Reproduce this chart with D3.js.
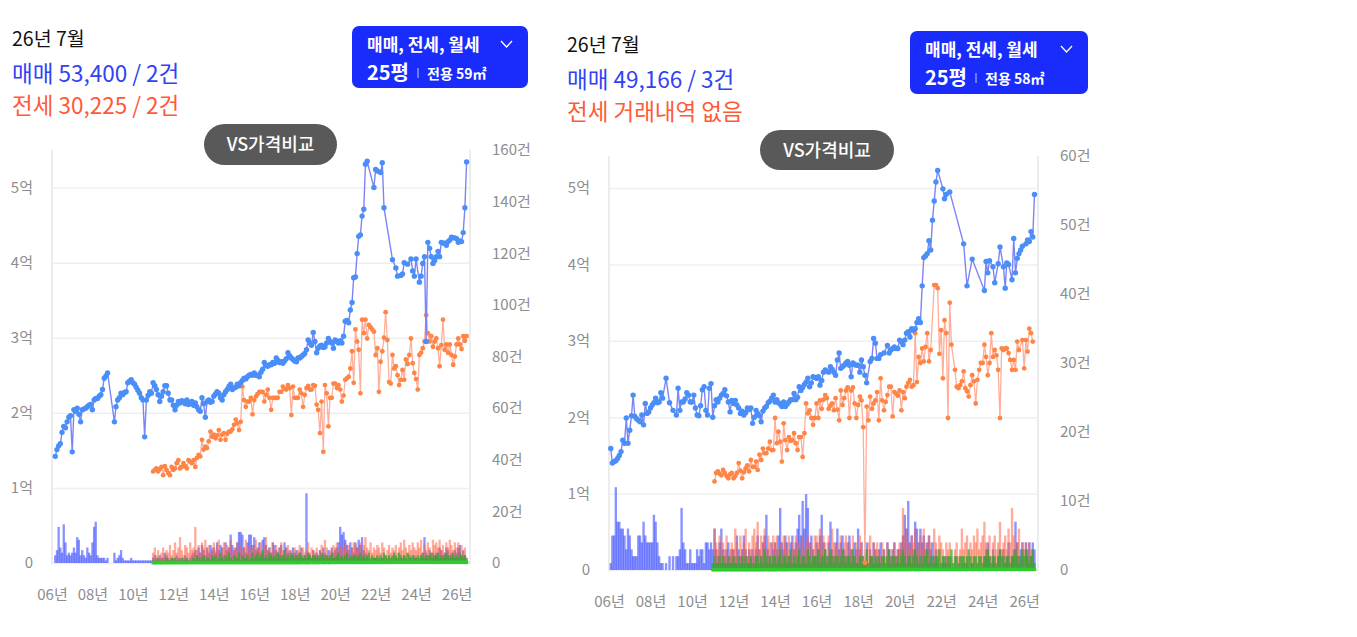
<!DOCTYPE html>
<html>
<head>
<meta charset="utf-8">
<script src="https://cdn.jsdelivr.net/npm/d3@7/dist/d3.min.js"></script>
<style>
  body { margin: 0; background: #fff; }
  svg text { font-family: "Noto Sans CJK KR", "Noto Sans", sans-serif; }
</style>
</head>
<body>
<svg id="chart" width="1357" height="637"></svg>
<script>
// ---- data: monthly, 매매 from 2006-01, 전세/월세 from 2011-01 (만원, 건) ----
var rentalFrom = 60; // month index of 2011-01

var priceTicks = [0, 10000, 20000, 30000, 40000, 50000];
var yearTicks = [2006, 2008, 2010, 2012, 2014, 2016, 2018, 2020, 2022, 2024, 2026];

// panel A (25평 / 59㎡)
var saleA = [
  null, null, 14200, 15100, 15600, 15900, 17400, 18200, 18000, 18800, 19400, 19600,
  14800, 20400, 20200, 20600, 19800, 18800, 20400, 20500, 20600, 20800, 21000, 21100,
  20400, 21700, 21900, 21900, 22200, 22400, 23100, 24600, 24900, 25300, null, null,
  null, 18800, 20800, 21700, 22000, 22600, 22400, 22700, 22800, 24000, 24200, 24400,
  24000, 23800, 23400, 23000, 22600, 22000, 21700, 16800, 21700, 22300, 22800, 22600,
  24000, 23600, 23100, 22400, 21500, 22200, 22800, 23600, 23600, 22600, 21700, 21700,
  21000, 20400, 21000, 21500, 21300, 21600, 21500, 21200, 21700, 21100, 21300, 21500,
  21000, 21300, 20800, 20400, 20200, 22000, 21200, 19400, 21500, 21700, 21400, 21500,
  22200, 22500, 22800, 22600, 22000, 21700, 22400, 22800, 23100, 23500, 23800, 23100,
  23300, 23400, 23800, 23600, 24000, 24300, 24600, 24500, 24800, 25000, 25100, 25000,
  25300, 25000, 25000, 24800, 25400, 25800, 26700, 26300, 26200, 26400, 26400, 26700,
  26600, 27300, 27000, 26700, 26800, 26600, 26900, 27200, 28000, 27600, 27300, 27100,
  26900, 26800, 27300, 27300, 27500, 27700, 27900, 28400, 29700, 29300, 29000, 30700,
  29500, 28000, 28600, 28900, 29000, 28700, 28800, 29300, 29900, 29500, 29300, 28600,
  29700, 29500, 29300, 29600, 29300, 30200, 32200, 32300, 32000, 33700, 34700, 38000,
  38100, 41200, 43500, 43700, 46200, 47100, 53100, 53500, null, null, null, 50000,
  52400, 52200, null, 52000, 53300, 47300, null, null, null, null, 40400, null,
  39300, 38200, null, 38300, 38500, 40000, null, 39800, null, 40500, 38900, 38200,
  40500, null, 37400, 38200, 39900, 40800, 29500, 42700, 41900, 40800, 39900, 40300,
  40800, 41500, 40800, 42700, 42600, 42600, 42300, 42800, 43000, 43400, 43300, 43300,
  43200, 42700, 42900, 42800, 44000, 47300, 53400
];
var jeonseA = [
  12200, 12400, 12600, 12200, 12500, 12800, 11700, 12900, 12400, 12000, 11700, 12800,
  12400, 12600, 13300, 13700, 12600, 12800, 13300, 12900, 12600, 13700, 13500, 13300,
  13700, 12800, 14000, 14400, 14200, 16400, 15100, 15500, 15300, 16200, 17500, 16800,
  17100, 16600, 17000, 17700, 16400, 17100, 17300, 16400, 17200, 17500, 17500, 17800,
  18400, 19100, 18600, 17700, 18800, 23500, 21700, 20800, 21500, 21500, 22000, 19800,
  21700, 22200, 22500, 22800, 22800, 22800, 21500, 22400, 23100, 22000, 20400, 22000,
  22000, 22000, 22000, 22800, 22800, 23500, 23200, 23100, 23700, 23300, 19700, 23500,
  22000, 22000, 22000, 23100, 22600, 20800, 22400, 23300, 23600, 23100, 23100, 23700,
  23600, 21100, 20400, 17300, 21500, 14800, 23700, 22600, 18200, 22000, 22000, 23900,
  23900, 23300, 23700, 23100, 21500, 22300, 24400, 24600, 24800, 25900, 28200, 24000,
  31100, 29500, 28400, 22600, 32400, 30600, 32400, 29900, 31700, 31400, 31100, 30800,
  27700, 28600, 22800, 26800, 28200, 30000, 33400, 29700, 24100, 23900, 27700, 25900,
  26200, 25000, 23700, 24400, 25700, 24400, 27100, 26500, 27700, 29900, 26600, 25300,
  24500, 23100, 27700, 28000, 28600, 29500, 33000, 30600, 29500, 30200, 28800, 29500,
  29900, 28600, 26200, 29000, 32400, 28400, 29100, 28000, 29100, 27700, 26400, 27500,
  29100, 29900, 29100, 28500, 30200, 29600, 30225
];
var rentA = [
  45, 48, 45, 50, 46, 45, 48, 50, 47, 45, 50, 48,
  50, 48, 52, 50, 48, 50, 52, 49, 50, 53, 50, 52,
  52, 55, 50, 53, 55, 52, 54, 56, 52, 55, 53, 55,
  55, 57, 54, 56, 58, 55, 57, 55, 58, 56, 60, 57,
  58, 60, 57, 60, 62, 58, 60, 63, 60, 58, 62, 60,
  60, 62, 65, 60, 63, 62, 65, 60, 64, 62, 65, 63,
  63, 65, 62, 66, 64, 65, 68, 63, 66, 65, 67, 64,
  65, 67, 66, 68, 65, 70, 67, 66, 69, 68, 70, 67,
  68, 70, 67, 70, 72, 68, 70, 72, 69, 71, 70, 73,
  70, 72, 75, 70, 73, 72, 75, 73, 76, 72, 75, 74,
  75, 78, 76, 80, 77, 78, 80, 76, 79, 82, 78, 80,
  80, 85, 82, 84, 80, 86, 83, 85, 82, 88, 84, 86,
  85, 88, 84, 87, 90, 86, 88, 85, 90, 87, 89, 88,
  88, 90, 87, 92, 89, 90, 93, 88, 91, 94, 90, 92,
  92, 95, 90, 94, 96, 92, 95, 93, 97, 94, 96, 95,
  95, 98, 96, 100, 97, 99, 98
];
var saleCntA = [
  0, 0, 3, 5, 14, 6, 4, 15, 8, 3, 4, 3,
  4, 6, 4, 10, 9, 3, 5, 3, 2, 6, 4, 3,
  8, 14, 16, 3, 2, 2, 2, 2, 1, 2, 0, 0,
  0, 4, 1, 2, 3, 5, 2, 1, 1, 1, 1, 2,
  1, 1, 1, 1, 1, 1, 1, 1, 1, 1, 1, 1,
  2, 3, 2, 1, 3, 2, 2, 4, 3, 2, 1, 2,
  2, 1, 3, 2, 2, 1, 2, 3, 2, 1, 2, 3,
  4, 5, 3, 6, 4, 7, 5, 3, 6, 4, 7, 5,
  6, 4, 8, 5, 7, 6, 3, 8, 5, 6, 11, 7,
  5, 6, 8, 12, 12, 11, 6, 4, 8, 11, 11, 7,
  10, 5, 6, 8, 4, 9, 10, 7, 5, 6, 4, 8,
  7, 5, 4, 6, 7, 3, 8, 6, 4, 5, 3, 6,
  4, 5, 3, 4, 6, 2, 3, 27, 4, 3, 2, 5,
  3, 4, 2, 5, 3, 6, 4, 3, 5, 2, 6, 4,
  5, 6, 8, 14, 11, 12, 9, 7, 5, 8, 6, 4,
  8, 6, 9, 7, 10, 5, 4, 3, 0, 0, 0, 2,
  2, 1, 0, 1, 2, 1, 0, 0, 0, 0, 1, 0,
  2, 1, 0, 2, 1, 3, 0, 1, 0, 2, 1, 3,
  2, 0, 1, 3, 2, 10, 4, 3, 5, 2, 4, 3,
  4, 3, 6, 5, 3, 4, 6, 5, 3, 4, 2, 5,
  4, 6, 7, 3, 5, 3, 2
];
var jeonseCntA = [
  4, 6, 3, 5, 2, 4, 6, 3, 5, 4, 7, 3,
  5, 8, 4, 6, 10, 5, 3, 7, 6, 4, 8, 5,
  6, 14, 5, 7, 4, 8, 6, 9, 5, 7, 4, 6,
  8, 5, 7, 9, 4, 6, 8, 5, 7, 6, 9, 4,
  6, 5, 8, 4, 7, 5, 6, 9, 4, 7, 5, 6,
  7, 9, 5, 6, 8, 4, 7, 10, 5, 6, 4, 8,
  5, 7, 4, 6, 8, 5, 3, 6, 7, 4, 5, 3,
  6, 4, 5, 7, 3, 6, 4, 5, 8, 4, 6, 5,
  4, 6, 3, 5, 7, 4, 9, 6, 3, 5, 4, 7,
  6, 8, 5, 7, 4, 6, 8, 5, 7, 3, 6, 8,
  7, 5, 6, 8, 4, 7, 10, 6, 5, 8, 4, 6,
  5, 7, 6, 4, 8, 6, 3, 5, 7, 4, 6, 5,
  7, 4, 6, 8, 5, 9, 6, 4, 7, 5, 8, 6,
  5, 8, 6, 9, 4, 7, 5, 8, 6, 4, 9, 7,
  8, 6, 9, 5, 7, 4, 8, 6, 9, 7, 5, 8,
  6, 8, 5, 7, 4, 6, 2
];
var rentCntA = [
  1, 0, 1, 2, 1, 1, 0, 1, 2, 1, 1, 2,
  1, 2, 1, 1, 0, 2, 1, 1, 2, 1, 0, 1,
  2, 1, 3, 2, 1, 2, 3, 1, 2, 2, 1, 3,
  2, 3, 1, 2, 4, 2, 1, 3, 2, 4, 2, 1,
  3, 2, 2, 4, 1, 3, 2, 2, 3, 1, 2, 4,
  2, 3, 4, 2, 3, 5, 2, 3, 2, 4, 3, 2,
  3, 2, 4, 3, 2, 3, 5, 2, 3, 2, 4, 3,
  2, 3, 2, 4, 3, 2, 3, 2, 4, 3, 2, 3,
  3, 2, 3, 2, 4, 3, 2, 3, 2, 3, 4, 2,
  2, 3, 4, 2, 3, 2, 3, 4, 2, 3, 2, 3,
  3, 2, 3, 4, 2, 3, 2, 3, 4, 2, 3, 2,
  2, 3, 2, 3, 2, 4, 3, 2, 3, 2, 3, 4,
  3, 2, 4, 3, 2, 3, 2, 4, 3, 2, 3, 2,
  2, 3, 2, 3, 4, 2, 3, 2, 3, 4, 2, 3,
  3, 4, 2, 3, 2, 3, 4, 3, 2, 3, 4, 2,
  3, 2, 4, 3, 2, 3, 1
];

// panel B (25평 / 58㎡)
var saleB = [
  null, 15900, 14000, 14200, 14300, 14600, 15000, 15500, 17000, 16600, 19900, 16600,
  18300, 20200, 22900, 20100, 19800, 19600, 19400, 20300, 19000, 21800, 20500, 20700,
  21200, 21600, 21900, 22500, 21900, 22000, 23200, 22500, null, 25100, null, 21900,
  null, 20900, null, 20300, 23800, 20900, 22000, 22000, 22400, 23200, 22900, 22000,
  22000, 22900, 21200, 20300, 20200, 21500, 23600, 24000, 20900, 20300, 23800, 24400,
  20000, 21500, 22300, 22000, 22500, 22900, 23100, 23600, 22800, 22000, 20700, 22200,
  21800, 22200, 21600, 21200, 20500, 20800, 20300, 20600, 21200, 21000, 21200, 19200,
  20000, 20900, 20500, 20200, 19400, 20800, 21200, 21400, 21900, 22100, 22500, 22900,
  22000, 22300, 21900, 21700, 21400, 22000, 21400, 21700, 22000, 22300, 22300, 23100,
  22300, 22600, 24000, 23500, 23900, 24300, 24600, 25100, 24000, 24500, 25300, 25200,
  25100, 25300, 24200, 24800, 25900, 26200, 26000, 25900, 26600, 26300, 25900, 25500,
  27500, 28400, 26400, 26600, 26800, 27100, 27300, 26800, 25300, 27100, 26900, 26800,
  26800, 25900, 27500, 26600, 25500, 24500, null, 27300, 27700, 30300, 29700, 27700,
  27700, 28200, null, 28400, null, 29400, 28400, 28800, 29000, 29200, 29000, 29000,
  30100, 29900, 29500, 30100, 31000, 31200, 30500, 31600, 31400, 31600, 32400, 32900,
  32400, 37200, 40900, 41100, 41400, 43100, 41900, 45800, 48300, 50800, 52300, null,
  null, 49900, 48600, 49200, null, 49500, null, null, null, null, null, null,
  null, 42700, null, 37200, null, null, 40700, null, null, null, null, null,
  null, 36600, 40400, 38900, 40500, null, 39700, 37600, null, 40100, 42300, null,
  39700, 36900, 40200, 40000, null, 38000, 43400, 38900, 40800, 41400, 41900, 42400,
  null, 42700, 43200, 43000, 44300, 43600, 49166
];
var jeonseB = [
  null, 11600, 12700, 12900, 12600, 12400, 13100, 12700, 12300, 12000, 12500, 12700,
  12000, 12300, 12700, 14000, 13000, 12000, 12800, 13300, 13700, 12900, 14400, 13500,
  13500, 14200, 13100, 15100, 14400, 15900, 15300, 15300, 15900, 16800, 15700, 15700,
  19900, 16600, 18100, 16800, 14200, 19200, 17000, 15700, 17400, 16900, 17000, 17900,
  16600, 15700, 17400, 17400, 14800, 17900, 21800, 20500, 20900, 19900, 19000, 19900,
  21800, 19900, 22200, 21100, 22300, 22900, 22500, 21100, 21500, 21800, 20900, 22500,
  21000, 19600, 23500, 21600, 22500, 23500, 23900, 19900, 23500, 23900, 21800, 19900,
  21600, 22700, 22200, 18700, 950, 21400, 19600, 22700, 21100, 21800, 22200, 23300,
  19600, 25100, 22200, 20900, 22000, 22900, 24000, 24000, 20100, 23300, 23100, 22800,
  23500, 20900, 23300, 22500, 24000, 24500, 24900, 24000, 24200, 31000, 24600, 27900,
  27100, 29000, 27300, 29200, 31000, 27300, 28800, null, 37300, 37300, 36900, 28300,
  31400, 25100, 32700, 31000, 19900, 35000, 29500, null, 26200, 24000, 23800, 24200,
  24700, 26000, 23800, 23400, 22700, 24200, 25500, 24700, 21800, 24900, 26200, 27100,
  27100, 29500, 27900, 25500, 27100, 31000, 27900, 28800, 28100, 26200, 19900, 29000,
  28800, 29000, 29000, 28400, 27500, 26200, 27500, 26200, 29900, 28800, null, 30100,
  26400, 30100, 28600, 31600, 31000, 29900, null
];
var rentB = [
  40, 42, 40, 43, 41, 40, 42, 44, 41, 40, 43, 42,
  44, 42, 45, 44, 42, 44, 46, 43, 44, 47, 44, 45,
  46, 48, 45, 47, 48, 46, 48, 50, 46, 49, 47, 48,
  49, 50, 48, 50, 52, 49, 51, 49, 52, 50, 53, 51,
  52, 54, 51, 54, 55, 52, 54, 56, 54, 52, 55, 54,
  54, 56, 58, 54, 57, 56, 58, 54, 57, 56, 58, 57,
  57, 58, 56, 60, 58, 59, 61, 57, 60, 59, 61, 58,
  59, 61, 60, 62, 59, 63, 61, 60, 63, 62, 64, 61,
  62, 64, 61, 64, 65, 62, 64, 66, 63, 65, 64, 66,
  64, 66, 68, 64, 67, 66, 68, 67, 69, 66, 68, 67,
  68, 71, 69, 73, 70, 71, 73, 69, 72, 75, 71, 73,
  73, 77, 75, 76, 73, 78, 75, 77, 75, 80, 76, 78,
  77, 80, 76, 79, 82, 78, 80, 77, 82, 79, 81, 80,
  80, 82, 79, 84, 81, 82, 85, 80, 83, 86, 82, 84,
  84, 87, 82, 86, 88, 84, 87, 85, 89, 86, 88, 87,
  87, 90, 88, 92, 89, 91, 90
];
var saleCntB = [
  0, 1, 5, 5, 12, 7, 7, 6, 6, 5, 3, 6,
  5, 3, 2, 2, 2, 5, 5, 4, 7, 5, 4, 4,
  4, 4, 8, 7, 4, 2, 1, 1, 0, 1, 0, 2,
  0, 2, 0, 2, 2, 3, 9, 4, 3, 1, 1, 3,
  1, 1, 1, 3, 2, 3, 3, 1, 4, 4, 3, 4,
  3, 6, 3, 2, 4, 6, 3, 2, 3, 4, 2, 3,
  3, 2, 5, 3, 2, 3, 5, 3, 2, 3, 2, 3,
  2, 3, 5, 3, 2, 4, 5, 8, 3, 2, 4, 3,
  4, 3, 5, 9, 4, 3, 5, 4, 2, 4, 5, 3,
  4, 6, 8, 5, 10, 6, 11, 9, 4, 5, 3, 2,
  4, 3, 5, 8, 4, 3, 2, 4, 7, 3, 2, 4,
  6, 3, 4, 5, 3, 2, 4, 5, 3, 2, 4, 3,
  6, 3, 4, 2, 3, 4, 0, 3, 2, 4, 3, 2,
  3, 4, 0, 3, 0, 4, 3, 2, 3, 4, 2, 3,
  3, 4, 5, 8, 6, 10, 4, 5, 3, 7, 6, 4,
  6, 4, 5, 3, 4, 5, 3, 4, 2, 3, 1, 0,
  0, 1, 1, 2, 0, 1, 0, 0, 0, 0, 0, 0,
  0, 1, 0, 1, 0, 0, 1, 0, 0, 0, 0, 0,
  0, 2, 3, 4, 2, 0, 3, 1, 0, 2, 3, 0,
  3, 1, 2, 4, 0, 2, 3, 7, 4, 2, 3, 4,
  0, 4, 3, 4, 2, 4, 3
];
var jeonseCntB = [
  0, 6, 4, 3, 5, 2, 4, 3, 5, 2, 3, 4,
  3, 6, 4, 2, 5, 3, 4, 6, 2, 4, 3, 5,
  6, 4, 7, 3, 5, 4, 6, 3, 5, 4, 2, 5,
  4, 5, 3, 4, 2, 5, 4, 3, 5, 2, 4, 3,
  5, 3, 4, 2, 5, 3, 4, 5, 2, 4, 3, 5,
  5, 4, 6, 3, 5, 4, 2, 5, 3, 6, 4, 3,
  4, 2, 5, 3, 4, 5, 2, 4, 3, 5, 2, 4,
  3, 5, 4, 2, 1, 3, 4, 5, 2, 4, 3, 4,
  3, 2, 4, 3, 2, 4, 3, 2, 3, 4, 2, 3,
  4, 3, 9, 5, 6, 4, 3, 5, 4, 6, 3, 4,
  5, 3, 6, 4, 3, 5, 4, 0, 6, 4, 3, 5,
  4, 3, 2, 4, 3, 4, 2, 0, 3, 4, 2, 3,
  6, 3, 4, 5, 2, 4, 3, 5, 4, 6, 3, 4,
  5, 7, 4, 3, 5, 2, 4, 5, 3, 4, 7, 3,
  4, 5, 3, 6, 4, 9, 5, 3, 4, 6, 0, 4,
  3, 4, 2, 4, 3, 2, 0
];
var rentCntB = [
  1, 2, 1, 1, 2, 1, 2, 1, 1, 2, 1, 1,
  2, 1, 1, 2, 1, 2, 1, 2, 1, 1, 2, 1,
  1, 2, 2, 1, 2, 1, 3, 2, 1, 2, 1, 2,
  2, 1, 2, 3, 1, 2, 2, 1, 2, 3, 1, 2,
  1, 2, 3, 1, 2, 2, 1, 3, 2, 1, 2, 2,
  2, 3, 1, 2, 2, 3, 1, 2, 3, 2, 1, 2,
  2, 1, 2, 3, 2, 1, 2, 2, 1, 3, 2, 1,
  1, 2, 2, 1, 2, 3, 1, 2, 2, 1, 2, 1,
  2, 1, 2, 2, 1, 2, 3, 1, 2, 2, 1, 2,
  1, 2, 3, 2, 1, 2, 2, 1, 2, 3, 2, 1,
  2, 1, 2, 2, 3, 1, 2, 2, 1, 2, 2, 3,
  1, 2, 2, 1, 2, 2, 3, 1, 2, 2, 1, 2,
  2, 2, 1, 2, 3, 2, 1, 2, 2, 1, 2, 2,
  1, 2, 2, 3, 2, 1, 2, 2, 1, 2, 3, 2,
  2, 1, 2, 2, 1, 2, 2, 3, 2, 1, 2, 3,
  2, 3, 2, 1, 2, 3, 1
];

// ---- panels: layout + header text ----
var panels = [
  {
    left: 52, right: 470, top: 150, bottom: 563, priceMax: 55000,
    cntMax: 160, cntTicks: [0, 20, 40, 60, 80, 100, 120, 140, 160],
    sale: saleA, jeonse: jeonseA, rent: rentA,
    saleCnt: saleCntA, jeonseCnt: jeonseCntA, rentCnt: rentCntA,
    tx: 12, ty: 46, title: "26년 7월", saleText: "매매 53,400 / 2건", jeonseText: "전세 30,225 / 2건",
    btn: [352, 26, 176, 62], area: "전용 59㎡", pill: [204, 124, 133, 41]
  },
  {
    left: 609, right: 1038, top: 156, bottom: 570, priceMax: 54200,
    cntMax: 60, cntTicks: [0, 10, 20, 30, 40, 50, 60],
    sale: saleB, jeonse: jeonseB, rent: rentB,
    saleCnt: saleCntB, jeonseCnt: jeonseCntB, rentCnt: rentCntB,
    tx: 567, ty: 52, title: "26년 7월", saleText: "매매 49,166 / 3건", jeonseText: "전세 거래내역 없음",
    btn: [910, 31, 178, 63], area: "전용 58㎡", pill: [760, 130, 134, 40]
  }
];

var svg = d3.select("#chart");
var t0 = new Date(2006, 0, 1);
var monthAt = function(i) { return d3.timeMonth.offset(t0, i); };

var toPoints = function(vals, offset) {
  return vals.map(function(v, i) { return { d: monthAt(i + offset), v: v }; })
    .filter(function(p) { return p.v != null && p.v > 0; });
};

var fmtPrice = function(v) { return v === 0 ? "0" : (v / 10000) + "억"; };
var fmtCnt = function(v) { return v === 0 ? "0" : v + "건"; };

function drawPanel(p) {
  var g = svg.append("g");
  var x = d3.scaleTime().domain([t0, new Date(2026, 8, 1)]).range([p.left, p.right]);
  var yP = d3.scaleLinear().domain([0, p.priceMax]).range([p.bottom, p.top]);
  var yC = d3.scaleLinear().domain([0, p.cntMax]).range([p.bottom, p.top]);
  var bw = (x(monthAt(1)) - x(monthAt(0))) * 1.35;

  // grid
  g.append("g").attr("transform", "translate(" + p.left + ",0)")
    .call(d3.axisLeft(yP).tickValues(priceTicks).tickSize(-(p.right - p.left)).tickFormat(""))
    .call(function(a) { a.select(".domain").remove(); })
    .selectAll("line").attr("stroke", "#efefef").attr("stroke-width", 1.5);
  [p.left, p.right].forEach(function(xx) {
    g.append("line").attr("x1", xx).attr("x2", xx).attr("y1", p.top).attr("y2", p.bottom + 1)
      .attr("stroke", "#ececec").attr("stroke-width", 2);
  });

  // axis labels
  var axL = g.append("g").attr("transform", "translate(" + (p.left - 19) + ",0)")
    .call(d3.axisLeft(yP).tickValues(priceTicks).tickSize(0).tickPadding(0).tickFormat(fmtPrice));
  var axR = g.append("g").attr("transform", "translate(" + (p.right + 22) + ",0)")
    .call(d3.axisRight(yC).tickValues(p.cntTicks).tickSize(0).tickPadding(0).tickFormat(fmtCnt));
  var axB = g.append("g").attr("transform", "translate(0," + (p.bottom + 20) + ")")
    .call(d3.axisBottom(x).tickValues(yearTicks.map(function(y) { return new Date(y, 0, 1); }))
      .tickSize(0).tickPadding(6).tickFormat(d3.timeFormat("%y년")));
  [axL, axR, axB].forEach(function(a) {
    a.select(".domain").remove();
    a.attr("font-family", null).attr("font-size", null);
    a.selectAll("text").attr("fill", "#8e8e8e").style("font-size", "15px");
  });

  // volume bars
  var bars = [
    { vals: p.saleCnt, off: 0, fill: "#3446ff", op: 0.58 },
    { vals: p.jeonseCnt, off: rentalFrom, fill: "#ff5f44", op: 0.52 },
    { vals: p.rentCnt, off: rentalFrom, fill: "#2ea82e", op: 0.72 }
  ];
  bars.forEach(function(b) {
    g.append("g").selectAll("rect").data(toPoints(b.vals, b.off)).enter().append("rect")
      .attr("x", function(d) { return x(d.d) - bw / 2; })
      .attr("y", function(d) { return yC(d.v); })
      .attr("width", bw)
      .attr("height", function(d) { return p.bottom - yC(d.v); })
      .attr("fill", b.fill).attr("fill-opacity", b.op);
  });

  // price lines
  var line = d3.line().x(function(d) { return x(d.d); }).y(function(d) { return yP(d.v); });
  var lines = [
    { pts: toPoints(p.rent, rentalFrom), stroke: "#56d856", dot: "#2fcc2f", r: 1.9, w: 2 },
    { pts: toPoints(p.jeonse, rentalFrom), stroke: "#ffae9a", dot: "#ff8546", r: 2.4, w: 1.3 },
    { pts: toPoints(p.sale, 0), stroke: "#7c85f6", dot: "#4a8ef8", r: 2.7, w: 1.4 }
  ];
  lines.forEach(function(s) {
    g.append("path").datum(s.pts).attr("d", line).attr("fill", "none")
      .attr("stroke", s.stroke).attr("stroke-width", s.w);
    g.append("g").selectAll("circle").data(s.pts).enter().append("circle")
      .attr("cx", function(d) { return x(d.d); })
      .attr("cy", function(d) { return yP(d.v); })
      .attr("r", s.r).attr("fill", s.dot);
  });

  // header
  g.append("text").attr("x", p.tx).attr("y", p.ty).text(p.title)
    .attr("fill", "#111").style("font-size", "19.5px");
  g.append("text").attr("x", p.tx).attr("y", p.ty + 36).text(p.saleText)
    .attr("fill", "#3142f2").style("font-size", "22.5px");
  g.append("text").attr("x", p.tx).attr("y", p.ty + 68).text(p.jeonseText)
    .attr("fill", "#ff5a38").style("font-size", "22.5px");

  // filter button
  var b = p.btn;
  g.append("rect").attr("x", b[0]).attr("y", b[1]).attr("width", b[2]).attr("height", b[3])
    .attr("rx", 7).attr("fill", "#1a2cfb");
  g.append("text").attr("x", b[0] + 15).attr("y", b[1] + 25).text("매매, 전세, 월세")
    .attr("fill", "#fff").style("font-size", "17px").style("font-weight", "700");
  g.append("path")
    .attr("d", "M" + (b[0] + b[2] - 27) + "," + (b[1] + 15) + " l5.5,6 l5.5,-6")
    .attr("fill", "none").attr("stroke", "#fff").attr("stroke-width", 1.3);
  g.append("text").attr("x", b[0] + 15).attr("y", b[1] + 54).text("25평")
    .attr("fill", "#fff").style("font-size", "20px").style("font-weight", "700");
  g.append("line").attr("x1", b[0] + 66).attr("x2", b[0] + 66).attr("y1", b[1] + 42).attr("y2", b[1] + 52)
    .attr("stroke", "#fff").attr("stroke-opacity", 0.75).attr("stroke-width", 1);
  g.append("text").attr("x", b[0] + 75).attr("y", b[1] + 53).text(p.area)
    .attr("fill", "#fff").style("font-size", "14px").style("font-weight", "700");

  // compare pill
  var q = p.pill;
  g.append("rect").attr("x", q[0]).attr("y", q[1]).attr("width", q[2]).attr("height", q[3])
    .attr("rx", q[3] / 2).attr("fill", "#595959");
  g.append("text").attr("x", q[0] + q[2] / 2).attr("y", q[1] + q[3] / 2 + 6.5).text("VS가격비교")
    .attr("text-anchor", "middle").attr("fill", "#fff").style("font-size", "18px").style("font-weight", "500");
}

panels.forEach(drawPanel);
</script>
</body>
</html>
